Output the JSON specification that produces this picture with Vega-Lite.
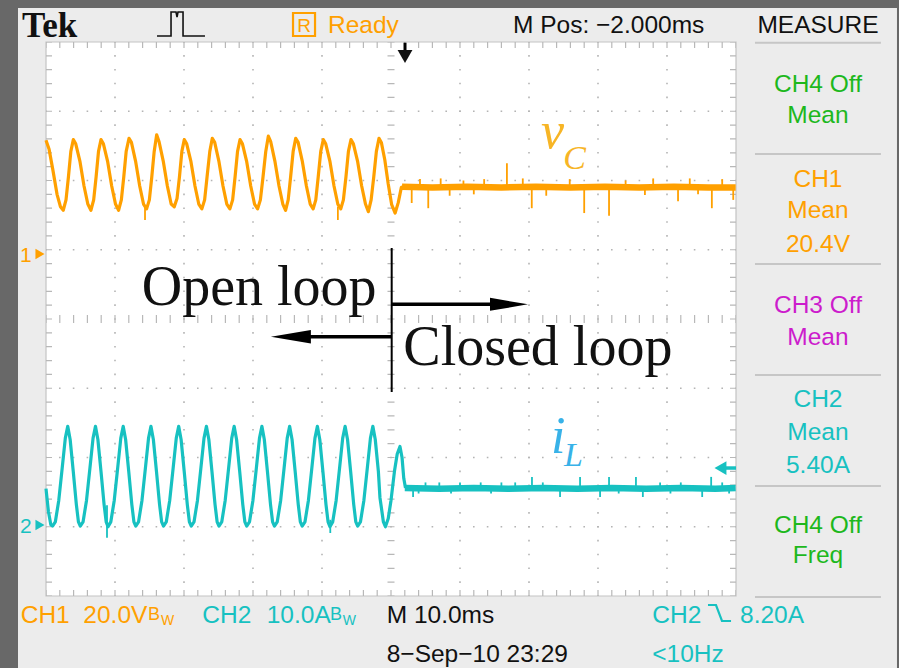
{
"$schema": "https://vega.github.io/schema/vega-lite/v6.json",
"width": 899, "height": 668, "autosize": {"type": "none"}, "padding": 0,
"background": "#686868",
"config": {"view": {"stroke": null}},
"datasets": {
"rects": [{"k":"scr","x":-4.058,"x2":123.33,"y":4.491,"y2":-5.2},{"k":"grat","x":0,"x2":100,"y":4,"y2":-4}],
"rbox": [{"x":35.8,"x2":38.99,"y":4.419,"y2":4.087}],
"vlines": [
{"k":"dot","x":10,"y":-4,"y2":4},{"k":"dot","x":20,"y":-4,"y2":4},{"k":"dot","x":30,"y":-4,"y2":4},{"k":"dot","x":40,"y":-4,"y2":4},
{"k":"dot","x":60,"y":-4,"y2":4},{"k":"dot","x":70,"y":-4,"y2":4},{"k":"dot","x":80,"y":-4,"y2":4},{"k":"dot","x":90,"y":-4,"y2":4},
{"k":"vc","x":50,"y":-4,"y2":4},
{"k":"ve","x":0.435,"y":-4,"y2":4},{"k":"ve","x":99.565,"y":-4,"y2":4},
{"k":"ann","x":50.1,"y":1.025,"y2":-1.054},
{"k":"trig","x":52.03,"y":3.99,"y2":3.82}],
"hlines": [
{"k":"dot","x":0,"x2":100,"y":-3},{"k":"dot","x":0,"x2":100,"y":-2},{"k":"dot","x":0,"x2":100,"y":-1},
{"k":"dot","x":0,"x2":100,"y":1},{"k":"dot","x":0,"x2":100,"y":2},{"k":"dot","x":0,"x2":100,"y":3},
{"k":"hc","x":0,"x2":100,"y":0},
{"k":"he","x":0,"x2":100,"y":3.9567},{"k":"he","x":0,"x2":100,"y":-3.9567},
{"k":"sep","x":102.75,"x2":121.0,"y":3.99},{"k":"sep","x":102.75,"x2":121.0,"y":2.383},{"k":"sep","x":102.75,"x2":121.0,"y":0.794},
{"k":"sep","x":102.75,"x2":121.0,"y":-0.809},{"k":"sep","x":102.75,"x2":121.0,"y":-2.412},{"k":"sep","x":102.75,"x2":121.0,"y":-4.014},
{"k":"arr","x":50.1,"x2":65.0,"y":0.212},{"k":"arr","x":37.5,"x2":50.1,"y":-0.256},
{"k":"lvl","x":98.3,"x2":100,"y":-2.152}],
"heads": [{"k":"r","x":67.1,"y":0.212},{"k":"l","x":35.49,"y":-0.256}],
"mk": [{"k":"tr","x":-0.87,"y":0.939,"ch":"1"},{"k":"tr","x":-0.87,"y":-2.975,"ch":"2"},{"k":"tl","x":97.75,"y":-2.152,"ch":"2"},{"k":"td","x":52.03,"y":3.79,"ch":"k"}],
"icon": [{"i":0,"x":16.09,"y":4.087},{"i":1,"x":18.12,"y":4.087},{"i":2,"x":18.12,"y":4.433},{"i":3,"x":18.84,"y":4.433},{"i":4,"x":18.99,"y":4.36},{"i":5,"x":19.13,"y":4.433},{"i":6,"x":19.86,"y":4.433},{"i":7,"x":19.86,"y":4.087},{"i":8,"x":23.04,"y":4.087}],
"edge": [{"i":0,"x":95.94,"y":-4.13},{"i":1,"x":97.1,"y":-4.13},{"i":2,"x":97.97,"y":-4.361},{"i":3,"x":99.28,"y":-4.361}],
"ch1o": [
{"x":0,"y":2.58},{"x":0.45,"y":2.45},{"x":1.0,"y":2.15},{"x":1.6,"y":1.8},{"x":2.1,"y":1.62},{"x":2.5,"y":1.57},{"x":2.9,"y":1.72},{"x":3.25,"y":2.05},{"x":3.6,"y":2.42},
{"x":3.96,"y":2.59},{"x":4.31,"y":2.53},{"x":4.91,"y":2.28},{"x":5.51,"y":1.92},{"x":6.06,"y":1.66},{"x":6.51,"y":1.57},{"x":6.91,"y":1.72},{"x":7.26,"y":2.05},{"x":7.61,"y":2.42},
{"x":7.97,"y":2.59},{"x":8.32,"y":2.53},{"x":8.92,"y":2.28},{"x":9.52,"y":1.92},{"x":10.07,"y":1.66},{"x":10.52,"y":1.57},{"x":10.92,"y":1.72},{"x":11.27,"y":2.05},{"x":11.62,"y":2.42},
{"x":12.03,"y":2.61},{"x":12.38,"y":2.55},{"x":12.98,"y":2.28},{"x":13.58,"y":1.92},{"x":14.13,"y":1.66},{"x":14.58,"y":1.59},{"x":14.98,"y":1.72},{"x":15.33,"y":2.05},{"x":15.68,"y":2.42},
{"x":16.04,"y":2.66},{"x":16.39,"y":2.56},{"x":16.99,"y":2.28},{"x":17.59,"y":1.92},{"x":18.14,"y":1.66},{"x":18.59,"y":1.62},{"x":18.99,"y":1.74},{"x":19.34,"y":2.05},{"x":19.69,"y":2.42},
{"x":20.04,"y":2.59},{"x":20.39,"y":2.53},{"x":20.99,"y":2.28},{"x":21.59,"y":1.92},{"x":22.14,"y":1.66},{"x":22.59,"y":1.59},{"x":22.99,"y":1.72},{"x":23.34,"y":2.05},{"x":23.74,"y":2.42},
{"x":24.1,"y":2.61},{"x":24.45,"y":2.55},{"x":25.05,"y":2.28},{"x":25.65,"y":1.92},{"x":26.2,"y":1.66},{"x":26.65,"y":1.59},{"x":27.05,"y":1.72},{"x":27.4,"y":2.05},{"x":27.76,"y":2.42},
{"x":28.12,"y":2.59},{"x":28.47,"y":2.53},{"x":29.07,"y":2.28},{"x":29.67,"y":1.92},{"x":30.22,"y":1.66},{"x":30.67,"y":1.59},{"x":31.07,"y":1.72},{"x":31.45,"y":2.05},{"x":31.85,"y":2.42},
{"x":32.22,"y":2.64},{"x":32.57,"y":2.56},{"x":33.17,"y":2.28},{"x":33.77,"y":1.92},{"x":34.32,"y":1.66},{"x":34.72,"y":1.57},{"x":35.1,"y":1.72},{"x":35.45,"y":2.05},{"x":35.82,"y":2.42},
{"x":36.19,"y":2.61},{"x":36.54,"y":2.55},{"x":37.14,"y":2.28},{"x":37.74,"y":1.92},{"x":38.29,"y":1.66},{"x":38.72,"y":1.59},{"x":39.1,"y":1.72},{"x":39.45,"y":2.05},{"x":39.82,"y":2.42},
{"x":40.19,"y":2.59},{"x":40.54,"y":2.53},{"x":41.14,"y":2.28},{"x":41.74,"y":1.92},{"x":42.29,"y":1.66},{"x":42.72,"y":1.59},{"x":43.1,"y":1.72},{"x":43.47,"y":2.05},{"x":43.83,"y":2.42},
{"x":44.2,"y":2.59},{"x":44.55,"y":2.53},{"x":45.15,"y":2.28},{"x":45.75,"y":1.92},{"x":46.3,"y":1.66},{"x":46.72,"y":1.55},{"x":47.12,"y":1.72},{"x":47.5,"y":2.05},{"x":47.88,"y":2.42},
{"x":48.26,"y":2.61},{"x":48.6,"y":2.55},{"x":49.1,"y":2.3},{"x":49.6,"y":1.95},{"x":50.1,"y":1.65},{"x":50.6,"y":1.53},{"x":51.05,"y":1.68},{"x":51.5,"y":1.9},{"x":51.9,"y":1.91}],
"ch1c": [{"x":51.6,"y":1.91},{"x":56,"y":1.9},{"x":61,"y":1.91},{"x":66,"y":1.9},{"x":71,"y":1.91},{"x":76,"y":1.9},{"x":81,"y":1.91},{"x":86,"y":1.9},{"x":91,"y":1.91},{"x":96,"y":1.9},{"x":99.95,"y":1.9}],
"ch2o": [
{"x":0,"y":-2.45},{"x":0.35,"y":-2.78},{"x":0.7,"y":-2.97},
{"x":0.95,"y":-2.99},{"x":1.35,"y":-2.93},{"x":1.85,"y":-2.62},{"x":2.35,"y":-2.15},{"x":2.8,"y":-1.72},{"x":3.15,"y":-1.55},{"x":3.5,"y":-1.74},{"x":3.95,"y":-2.2},{"x":4.4,"y":-2.68},{"x":4.7,"y":-2.93},
{"x":4.97,"y":-2.99},{"x":5.37,"y":-2.93},{"x":5.87,"y":-2.62},{"x":6.37,"y":-2.15},{"x":6.82,"y":-1.72},{"x":7.17,"y":-1.55},{"x":7.52,"y":-1.74},{"x":7.97,"y":-2.2},{"x":8.42,"y":-2.68},{"x":8.72,"y":-2.93},
{"x":8.99,"y":-3.0},{"x":9.39,"y":-2.93},{"x":9.89,"y":-2.62},{"x":10.39,"y":-2.15},{"x":10.84,"y":-1.72},{"x":11.19,"y":-1.55},{"x":11.54,"y":-1.74},{"x":11.99,"y":-2.2},{"x":12.44,"y":-2.68},{"x":12.74,"y":-2.93},
{"x":13.01,"y":-2.99},{"x":13.41,"y":-2.93},{"x":13.91,"y":-2.62},{"x":14.41,"y":-2.15},{"x":14.86,"y":-1.72},{"x":15.21,"y":-1.55},{"x":15.56,"y":-1.74},{"x":16.01,"y":-2.2},{"x":16.46,"y":-2.68},{"x":16.76,"y":-2.93},
{"x":17.03,"y":-2.99},{"x":17.43,"y":-2.93},{"x":17.93,"y":-2.62},{"x":18.43,"y":-2.15},{"x":18.88,"y":-1.72},{"x":19.23,"y":-1.55},{"x":19.58,"y":-1.74},{"x":20.03,"y":-2.2},{"x":20.48,"y":-2.68},{"x":20.78,"y":-2.93},
{"x":21.05,"y":-2.99},{"x":21.45,"y":-2.93},{"x":21.95,"y":-2.62},{"x":22.45,"y":-2.15},{"x":22.9,"y":-1.72},{"x":23.25,"y":-1.55},{"x":23.6,"y":-1.74},{"x":24.05,"y":-2.2},{"x":24.5,"y":-2.68},{"x":24.8,"y":-2.93},
{"x":25.07,"y":-2.99},{"x":25.47,"y":-2.93},{"x":25.97,"y":-2.62},{"x":26.47,"y":-2.15},{"x":26.92,"y":-1.72},{"x":27.27,"y":-1.55},{"x":27.62,"y":-1.74},{"x":28.07,"y":-2.2},{"x":28.52,"y":-2.68},{"x":28.82,"y":-2.93},
{"x":29.09,"y":-2.99},{"x":29.49,"y":-2.93},{"x":29.99,"y":-2.62},{"x":30.49,"y":-2.15},{"x":30.94,"y":-1.72},{"x":31.29,"y":-1.55},{"x":31.64,"y":-1.74},{"x":32.09,"y":-2.2},{"x":32.54,"y":-2.68},{"x":32.84,"y":-2.93},
{"x":33.11,"y":-2.99},{"x":33.51,"y":-2.93},{"x":34.01,"y":-2.62},{"x":34.51,"y":-2.15},{"x":34.96,"y":-1.72},{"x":35.31,"y":-1.55},{"x":35.66,"y":-1.74},{"x":36.11,"y":-2.2},{"x":36.56,"y":-2.68},{"x":36.86,"y":-2.93},
{"x":37.13,"y":-2.99},{"x":37.53,"y":-2.93},{"x":38.03,"y":-2.62},{"x":38.53,"y":-2.15},{"x":38.98,"y":-1.72},{"x":39.33,"y":-1.55},{"x":39.68,"y":-1.74},{"x":40.13,"y":-2.2},{"x":40.58,"y":-2.68},{"x":40.88,"y":-2.93},
{"x":41.15,"y":-3.0},{"x":41.55,"y":-2.93},{"x":42.05,"y":-2.62},{"x":42.55,"y":-2.15},{"x":43.0,"y":-1.72},{"x":43.35,"y":-1.55},{"x":43.7,"y":-1.74},{"x":44.15,"y":-2.2},{"x":44.6,"y":-2.68},{"x":44.9,"y":-2.93},
{"x":45.17,"y":-2.99},{"x":45.57,"y":-2.93},{"x":46.07,"y":-2.62},{"x":46.57,"y":-2.15},{"x":47.02,"y":-1.72},{"x":47.37,"y":-1.55},{"x":47.72,"y":-1.74},{"x":48.17,"y":-2.2},{"x":48.4,"y":-2.58},{"x":48.9,"y":-2.93},
{"x":49.19,"y":-3.0},{"x":49.6,"y":-2.88},{"x":50.0,"y":-2.62},{"x":50.5,"y":-2.2},{"x":50.9,"y":-1.95},{"x":51.3,"y":-1.84},{"x":51.6,"y":-2.0},{"x":51.85,"y":-2.3},{"x":52.1,"y":-2.44}],
"ch2c": [{"x":52.0,"y":-2.44},{"x":57,"y":-2.45},{"x":62,"y":-2.44},{"x":67,"y":-2.45},{"x":72,"y":-2.44},{"x":77,"y":-2.45},{"x":82,"y":-2.44},{"x":87,"y":-2.45},{"x":92,"y":-2.44},{"x":97,"y":-2.45},{"x":99.95,"y":-2.44}],
"spk": [
{"x":14.35,"y":1.62,"y2":1.43,"ch":"1"},{"x":42.3,"y":1.62,"y2":1.43,"ch":"1"},
{"x":53.0,"y":1.9,"y2":1.675,"ch":"1"},{"x":55.4,"y":1.9,"y2":1.6,"ch":"1"},{"x":66.8,"y":1.9,"y2":2.25,"ch":"1"},{"x":70.4,"y":1.9,"y2":1.6,"ch":"1"},
{"x":78.0,"y":1.9,"y2":1.53,"ch":"1"},{"x":81.6,"y":1.9,"y2":1.49,"ch":"1"},{"x":91.6,"y":1.9,"y2":1.7,"ch":"1"},{"x":96.5,"y":1.9,"y2":1.6,"ch":"1"},{"x":99.6,"y":1.9,"y2":1.72,"ch":"1"},
{"x":54.2,"y":1.9,"y2":2.02,"ch":"1"},{"x":57.2,"y":1.9,"y2":2.03,"ch":"1"},{"x":60.5,"y":1.9,"y2":2.0,"ch":"1"},{"x":63.5,"y":1.9,"y2":2.02,"ch":"1"},{"x":69.1,"y":1.9,"y2":2.03,"ch":"1"},
{"x":75.9,"y":1.9,"y2":2.02,"ch":"1"},{"x":84,"y":1.9,"y2":2.0,"ch":"1"},{"x":88,"y":1.9,"y2":2.03,"ch":"1"},{"x":93.3,"y":1.9,"y2":2.03,"ch":"1"},{"x":98,"y":1.9,"y2":2.02,"ch":"1"},
{"x":58.5,"y":1.9,"y2":1.78,"ch":"1"},{"x":62,"y":1.9,"y2":1.8,"ch":"1"},{"x":72.5,"y":1.9,"y2":1.78,"ch":"1"},{"x":86.8,"y":1.9,"y2":1.79,"ch":"1"},{"x":94.5,"y":1.9,"y2":1.8,"ch":"1"},
{"x":8.84,"y":-2.69,"y2":-3.16,"ch":"2"},{"x":41.2,"y":-2.9,"y2":-3.09,"ch":"2"},
{"x":70.43,"y":-2.44,"y2":-2.28,"ch":"2"},{"x":77.4,"y":-2.44,"y2":-2.28,"ch":"2"},{"x":81.6,"y":-2.44,"y2":-2.28,"ch":"2"},{"x":85.5,"y":-2.44,"y2":-2.28,"ch":"2"},{"x":96.4,"y":-2.44,"y2":-2.28,"ch":"2"},
{"x":53.2,"y":-2.44,"y2":-2.57,"ch":"2"},{"x":74.5,"y":-2.44,"y2":-2.57,"ch":"2"},{"x":80.3,"y":-2.44,"y2":-2.57,"ch":"2"},{"x":86.5,"y":-2.44,"y2":-2.57,"ch":"2"},{"x":95.1,"y":-2.44,"y2":-2.57,"ch":"2"},
{"x":55,"y":-2.44,"y2":-2.36,"ch":"2"},{"x":57,"y":-2.44,"y2":-2.36,"ch":"2"},{"x":60,"y":-2.44,"y2":-2.36,"ch":"2"},{"x":63,"y":-2.44,"y2":-2.36,"ch":"2"},{"x":66,"y":-2.44,"y2":-2.36,"ch":"2"},
{"x":68,"y":-2.44,"y2":-2.36,"ch":"2"},{"x":72,"y":-2.44,"y2":-2.36,"ch":"2"},{"x":89,"y":-2.44,"y2":-2.36,"ch":"2"},{"x":92,"y":-2.44,"y2":-2.36,"ch":"2"},{"x":98,"y":-2.44,"y2":-2.36,"ch":"2"},
{"x":54,"y":-2.44,"y2":-2.52,"ch":"2"},{"x":58.7,"y":-2.44,"y2":-2.52,"ch":"2"},{"x":64.5,"y":-2.44,"y2":-2.52,"ch":"2"},{"x":83,"y":-2.44,"y2":-2.52,"ch":"2"},{"x":90.5,"y":-2.44,"y2":-2.52,"ch":"2"},{"x":99,"y":-2.44,"y2":-2.52,"ch":"2"}],
"txt": [
{"k":"tek","x":-3.478,"y":4.077,"s":"Tek","ch":"k"},
{"k":"l","x":40.87,"y":4.126,"s":"Ready","ch":"1"},
{"k":"rb","x":37.39,"y":4.15,"s":"R","ch":"1"},
{"k":"l","x":67.68,"y":4.126,"s":"M Pos: −2.000ms","ch":"k"},
{"k":"c","x":111.88,"y":4.126,"s":"MEASURE","ch":"k"},
{"k":"c","x":111.88,"y":3.278,"s":"CH4 Off","ch":"4"},
{"k":"c","x":111.88,"y":2.826,"s":"Mean","ch":"4"},
{"k":"c","x":111.88,"y":1.91,"s":"CH1","ch":"1"},
{"k":"c","x":111.88,"y":1.454,"s":"Mean","ch":"1"},
{"k":"c","x":111.88,"y":0.972,"s":"20.4V","ch":"1"},
{"k":"c","x":111.88,"y":0.087,"s":"CH3 Off","ch":"3"},
{"k":"c","x":111.88,"y":-0.375,"s":"Mean","ch":"3"},
{"k":"c","x":111.88,"y":-1.266,"s":"CH2","ch":"2"},
{"k":"c","x":111.88,"y":-1.747,"s":"Mean","ch":"2"},
{"k":"c","x":111.88,"y":-2.228,"s":"5.40A","ch":"2"},
{"k":"c","x":111.88,"y":-3.095,"s":"CH4 Off","ch":"4"},
{"k":"c","x":111.88,"y":-3.523,"s":"Freq","ch":"4"},
{"k":"l","x":-3.667,"y":-4.386,"s":"CH1","ch":"1"},
{"k":"l","x":5.41,"y":-4.386,"s":"20.0V","ch":"1"},
{"k":"b","x":14.78,"y":-4.347,"s":"B","ch":"1"},
{"k":"w","x":16.65,"y":-4.419,"s":"W","ch":"1"},
{"k":"l","x":22.65,"y":-4.386,"s":"CH2","ch":"2"},
{"k":"l","x":31.99,"y":-4.386,"s":"10.0A","ch":"2"},
{"k":"b","x":41.16,"y":-4.347,"s":"B","ch":"2"},
{"k":"w","x":43.0,"y":-4.419,"s":"W","ch":"2"},
{"k":"l","x":49.38,"y":-4.386,"s":"M 10.0ms","ch":"k"},
{"k":"l","x":49.38,"y":-4.949,"s":"8−Sep−10 23:29","ch":"k"},
{"k":"l","x":87.87,"y":-4.386,"s":"CH2","ch":"2"},
{"k":"l","x":100.58,"y":-4.386,"s":"8.20A","ch":"2"},
{"k":"l","x":87.87,"y":-4.949,"s":"<10Hz","ch":"2"},
{"k":"m","x":-3.77,"y":0.823,"s":"1","ch":"1"},
{"k":"m","x":-3.77,"y":-3.09,"s":"2","ch":"2"},
{"k":"ser","x":13.87,"y":0.202,"s":"Open loop","ch":"k"},
{"k":"ser","x":51.78,"y":-0.664,"s":"Closed loop","ch":"k"},
{"k":"it","x":71.74,"y":2.469,"s":"v","ch":"vc"},
{"k":"its","x":74.95,"y":2.16,"s":"C","ch":"vc"},
{"k":"it","x":73.19,"y":-1.935,"s":"i","ch":"il"},
{"k":"its","x":75.07,"y":-2.123,"s":"L","ch":"il"}]
},
"encoding": {
"x": {"field": "x", "type": "quantitative", "scale": {"domain": [-6.6667, 123.6232], "nice": false, "zero": false}, "axis": null},
"y": {"field": "y", "type": "quantitative", "scale": {"domain": [-5.0397, 4.6065], "nice": false, "zero": false}, "axis": null}
},
"layer": [
{"data": {"name": "rects"}, "transform": [{"filter": "datum.k=='scr'"}], "mark": {"type": "rect", "fill": "#ececec"}, "encoding": {"x2": {"field": "x2"}, "y2": {"field": "y2"}}},
{"data": {"name": "rects"}, "transform": [{"filter": "datum.k=='grat'"}], "mark": {"type": "rect", "fill": "#ffffff", "stroke": "#c4c4c4", "strokeWidth": 1.2}, "encoding": {"x2": {"field": "x2"}, "y2": {"field": "y2"}}},
{"data": {"name": "vlines"}, "transform": [{"filter": "datum.k=='dot'"}], "mark": {"type": "rule", "color": "#b4b4b4", "strokeWidth": 1.6, "strokeDash": [1.6, 12.25], "strokeDashOffset": 0.8}, "encoding": {"y2": {"field": "y2"}}},
{"data": {"name": "hlines"}, "transform": [{"filter": "datum.k=='dot'"}], "mark": {"type": "rule", "color": "#b4b4b4", "strokeWidth": 1.6, "strokeDash": [1.6, 12.2], "strokeDashOffset": 0.8}, "encoding": {"x2": {"field": "x2"}}},
{"data": {"name": "hlines"}, "transform": [{"filter": "datum.k=='hc'"}], "mark": {"type": "rule", "color": "#b8b8b8", "strokeWidth": 8, "strokeDash": [1.2, 12.6], "strokeDashOffset": 0.6}, "encoding": {"x2": {"field": "x2"}}},
{"data": {"name": "hlines"}, "transform": [{"filter": "datum.k=='he'"}], "mark": {"type": "rule", "color": "#b8b8b8", "strokeWidth": 6, "strokeDash": [1.2, 12.6], "strokeDashOffset": 0.6}, "encoding": {"x2": {"field": "x2"}}},
{"data": {"name": "vlines"}, "transform": [{"filter": "datum.k=='vc'"}], "mark": {"type": "rule", "color": "#b8b8b8", "strokeWidth": 7, "strokeDash": [1.2, 12.65], "strokeDashOffset": 0.6}, "encoding": {"y2": {"field": "y2"}}},
{"data": {"name": "vlines"}, "transform": [{"filter": "datum.k=='ve'"}], "mark": {"type": "rule", "color": "#b8b8b8", "strokeWidth": 6, "strokeDash": [1.2, 12.65], "strokeDashOffset": 0.6}, "encoding": {"y2": {"field": "y2"}}},
{"data": {"name": "hlines"}, "transform": [{"filter": "datum.k=='sep'"}], "mark": {"type": "rule", "color": "#c6c6c6", "strokeWidth": 2}, "encoding": {"x2": {"field": "x2"}}},
{"data": {"name": "ch1o"}, "mark": {"type": "line", "color": "#ffa000", "strokeWidth": 3.2, "strokeJoin": "round"}},
{"data": {"name": "ch1c"}, "mark": {"type": "line", "color": "#ffa000", "strokeWidth": 6.5}},
{"data": {"name": "ch2o"}, "mark": {"type": "line", "color": "#17c1c1", "strokeWidth": 3.2, "strokeJoin": "round"}},
{"data": {"name": "ch2c"}, "mark": {"type": "line", "color": "#17c1c1", "strokeWidth": 6.5}},
{"data": {"name": "spk"}, "mark": {"type": "rule", "strokeWidth": 1.8}, "encoding": {"y2": {"field": "y2"}, "color": {"field": "ch", "type": "nominal", "scale": {"domain": ["k","1","2","3","4","vc","il"], "range": ["#111111","#ffa000","#17c1c1","#cc1ccc","#1db81d","#f7b526","#38b2e8"]}, "legend": null}}},
{"data": {"name": "vlines"}, "transform": [{"filter": "datum.k=='ann'"}], "mark": {"type": "rule", "color": "#000000", "strokeWidth": 2}, "encoding": {"y2": {"field": "y2"}}},
{"data": {"name": "hlines"}, "transform": [{"filter": "datum.k=='arr'"}], "mark": {"type": "rule", "color": "#000000", "strokeWidth": 3.5}, "encoding": {"x2": {"field": "x2"}}},
{"data": {"name": "heads"}, "transform": [{"filter": "datum.k=='r'"}], "mark": {"type": "point", "filled": true, "color": "#000000", "opacity": 1, "size": 1444, "shape": "M-1,-0.34L1,0L-1,0.34Z"}},
{"data": {"name": "heads"}, "transform": [{"filter": "datum.k=='l'"}], "mark": {"type": "point", "filled": true, "color": "#000000", "opacity": 1, "size": 1600, "shape": "M1,-0.34L-1,0L1,0.34Z"}},
{"data": {"name": "vlines"}, "transform": [{"filter": "datum.k=='trig'"}], "mark": {"type": "rule", "color": "#000000", "strokeWidth": 3}, "encoding": {"y2": {"field": "y2"}}},
{"data": {"name": "hlines"}, "transform": [{"filter": "datum.k=='lvl'"}], "mark": {"type": "rule", "color": "#17c1c1", "strokeWidth": 3.5}, "encoding": {"x2": {"field": "x2"}}},
{"data": {"name": "mk"}, "transform": [{"filter": "datum.k=='tr'"}], "mark": {"type": "point", "filled": true, "opacity": 1, "size": 110, "shape": "triangle-right"}, "encoding": {"color": {"field": "ch", "type": "nominal", "legend": null}}},
{"data": {"name": "mk"}, "transform": [{"filter": "datum.k=='tl'"}], "mark": {"type": "point", "filled": true, "opacity": 1, "size": 190, "shape": "triangle-left"}, "encoding": {"color": {"field": "ch", "type": "nominal", "legend": null}}},
{"data": {"name": "mk"}, "transform": [{"filter": "datum.k=='td'"}], "mark": {"type": "point", "filled": true, "opacity": 1, "size": 220, "shape": "triangle-down"}, "encoding": {"color": {"field": "ch", "type": "nominal", "legend": null}}},
{"data": {"name": "icon"}, "mark": {"type": "line", "color": "#111111", "strokeWidth": 1.6}, "encoding": {"order": {"field": "i"}}},
{"data": {"name": "edge"}, "mark": {"type": "line", "color": "#17c1c1", "strokeWidth": 2.2}, "encoding": {"order": {"field": "i"}}},
{"data": {"name": "rbox"}, "mark": {"type": "rect", "fill": null, "stroke": "#ffa000", "strokeWidth": 2.2}, "encoding": {"x2": {"field": "x2"}, "y2": {"field": "y2"}}},
{"data": {"name": "txt"}, "transform": [{"filter": "datum.k=='l'"}], "mark": {"type": "text", "align": "left", "baseline": "alphabetic", "font": "Liberation Sans", "fontSize": 24.5}, "encoding": {"text": {"field": "s"}, "color": {"field": "ch", "type": "nominal", "legend": null}}},
{"data": {"name": "txt"}, "transform": [{"filter": "datum.k=='c'"}], "mark": {"type": "text", "align": "center", "baseline": "alphabetic", "font": "Liberation Sans", "fontSize": 24.5}, "encoding": {"text": {"field": "s"}, "color": {"field": "ch", "type": "nominal", "legend": null}}},
{"data": {"name": "txt"}, "transform": [{"filter": "datum.k=='b'"}], "mark": {"type": "text", "align": "left", "baseline": "alphabetic", "font": "Liberation Sans", "fontSize": 18}, "encoding": {"text": {"field": "s"}, "color": {"field": "ch", "type": "nominal", "legend": null}}},
{"data": {"name": "txt"}, "transform": [{"filter": "datum.k=='w'"}], "mark": {"type": "text", "align": "left", "baseline": "alphabetic", "font": "Liberation Sans", "fontSize": 14}, "encoding": {"text": {"field": "s"}, "color": {"field": "ch", "type": "nominal", "legend": null}}},
{"data": {"name": "txt"}, "transform": [{"filter": "datum.k=='m'"}], "mark": {"type": "text", "align": "left", "baseline": "alphabetic", "font": "Liberation Sans", "fontSize": 21}, "encoding": {"text": {"field": "s"}, "color": {"field": "ch", "type": "nominal", "legend": null}}},
{"data": {"name": "txt"}, "transform": [{"filter": "datum.k=='rb'"}], "mark": {"type": "text", "align": "center", "baseline": "alphabetic", "font": "Liberation Sans", "fontSize": 19}, "encoding": {"text": {"field": "s"}, "color": {"field": "ch", "type": "nominal", "legend": null}}},
{"data": {"name": "txt"}, "transform": [{"filter": "datum.k=='tek'"}], "mark": {"type": "text", "align": "left", "baseline": "alphabetic", "font": "Liberation Serif", "fontWeight": "bold", "fontSize": 35}, "encoding": {"text": {"field": "s"}, "color": {"field": "ch", "type": "nominal", "legend": null}}},
{"data": {"name": "txt"}, "transform": [{"filter": "datum.k=='ser'"}], "mark": {"type": "text", "align": "left", "baseline": "alphabetic", "font": "Liberation Serif", "fontSize": 56}, "encoding": {"text": {"field": "s"}, "color": {"field": "ch", "type": "nominal", "legend": null}}},
{"data": {"name": "txt"}, "transform": [{"filter": "datum.k=='it'"}], "mark": {"type": "text", "align": "left", "baseline": "alphabetic", "font": "Liberation Serif", "fontStyle": "italic", "fontSize": 52}, "encoding": {"text": {"field": "s"}, "color": {"field": "ch", "type": "nominal", "legend": null}}},
{"data": {"name": "txt"}, "transform": [{"filter": "datum.k=='its'"}], "mark": {"type": "text", "align": "left", "baseline": "alphabetic", "font": "Liberation Serif", "fontStyle": "italic", "fontSize": 34}, "encoding": {"text": {"field": "s"}, "color": {"field": "ch", "type": "nominal", "legend": null}}}
]
}
